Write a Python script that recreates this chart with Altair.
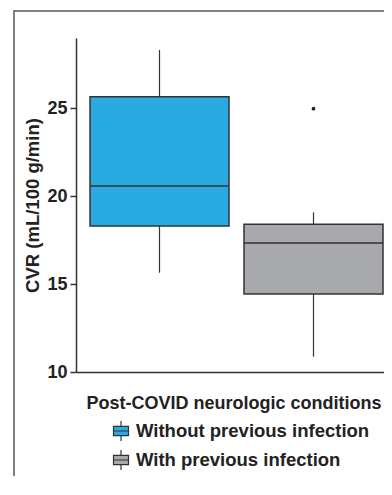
import altair as alt
import pandas as pd

# ---- data ----
groups = ["Without previous infection", "With previous infection"]
whisker_low = [15.65, 10.87]
q1 = [18.30, 14.44]
median = [20.58, 17.34]
q3 = [25.66, 18.40]
whisker_high = [28.32, 19.08]
outlier_group = ["With previous infection"]
outlier_value = [24.98]
colors = ["#29ABE2", "#A7A9AC"]
y_ticks = [10, 15, 20, 25]

df = pd.DataFrame({"group": groups, "lo": whisker_low, "q1": q1,
                   "med": median, "q3": q3, "hi": whisker_high})
out = pd.DataFrame({"group": outlier_group, "value": outlier_value})

FONT = "Liberation Sans"
INK = "#333333"
TXT = "#222222"

xscale = alt.Scale(domain=groups, paddingInner=0.0974, paddingOuter=0.0747, align=0.609)
yscale = alt.Scale(domain=[10, 29], nice=False, zero=False)

x_axis = alt.Axis(title="Post-COVID neurologic conditions", labels=False, ticks=False,
                  domain=True, domainColor=INK, domainWidth=1.5, grid=False,
                  titleX=10, titleY=31.5, titleBaseline="middle", titleAlign="left",
                  titleFontSize=18, titleFont=FONT, titleFontWeight="bold", titleColor=TXT,
                  titleLimit=0)
y_axis = alt.Axis(title="CVR (mL/100 g/min)", values=y_ticks, grid=False,
                  tickSize=6, tickColor=INK, tickWidth=1.5,
                  domainColor=INK, domainWidth=1.5,
                  labelFontSize=18, labelFont=FONT, labelFontWeight="bold", labelColor=TXT,
                  labelPadding=3,
                  titleX=-43.5, titleY=167, titleAngle=270, titleBaseline="middle",
                  titleAlign="center", titleFontSize=18.5, titleFont=FONT,
                  titleFontWeight="bold", titleColor=TXT)

SYMBOL = "M0,-1V-0.47M-0.75,-0.47H0.75V0.47H-0.75ZM-0.75,0H0.75M0,0.47V1"

legend = alt.Legend(title=None, orient="none", legendX=34, legendY=382,
                    symbolType=SYMBOL, symbolSize=400, symbolStrokeColor=INK,
                    symbolStrokeWidth=1.2, labelFontSize=18.5, labelFont=FONT,
                    labelFontWeight="bold", labelColor=TXT, labelOffset=4,
                    labelLimit=0, rowPadding=3, padding=0, direction="vertical")

base = alt.Chart(df)

frame = alt.Chart(alt.Data(values=[{}])).mark_rect(
    fill="transparent", stroke="#555555", strokeWidth=1.5
).encode(x=alt.value(-62), y=alt.value(-27), x2=alt.value(420), y2=alt.value(520))

whisk_low = base.mark_rule(color=INK, strokeWidth=1.2).encode(
    x=alt.X("group:N", scale=xscale, axis=x_axis, sort=groups),
    y=alt.Y("lo:Q", scale=yscale, axis=y_axis),
    y2="q1:Q")
whisk_high = base.mark_rule(color=INK, strokeWidth=1.2).encode(
    x=alt.X("group:N", scale=xscale, sort=groups),
    y=alt.Y("q3:Q", scale=yscale),
    y2="hi:Q")
box = base.mark_bar(stroke=INK, strokeWidth=1.5, opacity=1).encode(
    x=alt.X("group:N", scale=xscale, sort=groups),
    y=alt.Y("q1:Q", scale=yscale),
    y2="q3:Q",
    color=alt.Color("group:N", scale=alt.Scale(domain=groups, range=colors), legend=legend))
med = base.mark_tick(color=INK, thickness=1.5, size=139, opacity=1).encode(
    x=alt.X("group:N", scale=xscale, sort=groups),
    y=alt.Y("med:Q", scale=yscale))
outl = alt.Chart(out).mark_point(filled=True, color=TXT, size=14, opacity=1).encode(
    x=alt.X("group:N", scale=xscale, sort=groups),
    y=alt.Y("value:Q", scale=yscale))

chart = alt.layer(frame, whisk_low, whisk_high, box, med, outl).properties(
    width=316, height=334,
    padding={"left": 68, "top": 30, "right": -8, "bottom": 104},
    autosize=alt.AutoSizeParams(type="none"),
).configure_view(stroke="transparent")

chart.save("out.html", embed_options={"renderer": "svg", "actions": False})
